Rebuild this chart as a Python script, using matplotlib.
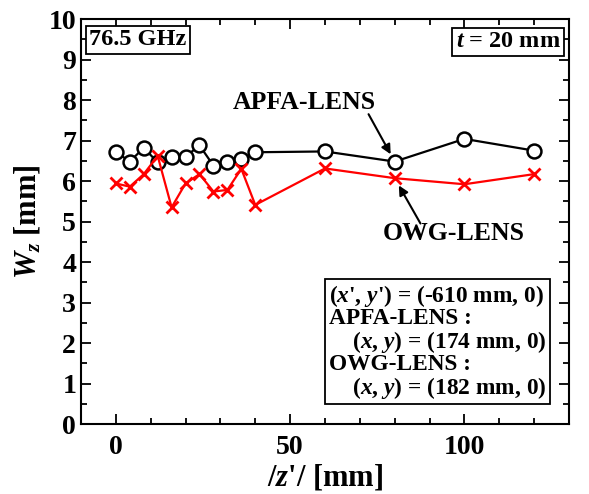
import numpy as np
import matplotlib
matplotlib.use('Agg')
import matplotlib.pyplot as plt
from matplotlib.ticker import MultipleLocator

plt.rcParams['font.family'] = ['Liberation Serif', 'DejaVu Serif']
plt.rcParams['font.weight'] = 'bold'
plt.rcParams['axes.labelweight'] = 'bold'
plt.rcParams['mathtext.fontset'] = 'custom'
plt.rcParams['mathtext.rm'] = 'Liberation Serif:bold'
plt.rcParams['mathtext.it'] = 'Liberation Serif:italic:bold'
plt.rcParams['mathtext.bf'] = 'Liberation Serif:bold'

# |z'| positions [mm]
z = [0, 4, 8, 12, 16, 20, 24, 28, 32, 36, 40, 60, 80, 100, 120]
# beam width W_z [mm]
w_apfa = [6.72, 6.48, 6.82, 6.46, 6.60, 6.60, 6.88, 6.38, 6.48, 6.54, 6.71, 6.73, 6.48, 7.04, 6.75]
w_owg = [5.94, 5.86, 6.17, 6.62, 5.35, 5.94, 6.17, 5.74, 5.78, 6.30, 5.41, 6.31, 6.07, 5.92, 6.17]

fig = plt.figure(figsize=(5.89, 4.94), dpi=100)
ax = fig.add_axes([0.1375, 0.1417, 0.8285, 0.8198])

ax.plot(z, w_apfa, '-o', color='black', lw=1.6, ms=10, mfc='white', mec='black', mew=1.8, zorder=2)
ax.plot(z, w_owg, '-x', color='red', lw=1.6, ms=9, mew=2.0, zorder=3)

ax.set_xlim(-10, 130)
ax.set_ylim(0, 10)
ax.xaxis.set_major_locator(MultipleLocator(50))
ax.xaxis.set_minor_locator(MultipleLocator(10))
ax.yaxis.set_major_locator(MultipleLocator(1))
ax.yaxis.set_minor_locator(MultipleLocator(0.5))
ax.tick_params(which='both', direction='in', top=True, right=True, width=1.3, labelsize=20)
ax.tick_params(which='major', length=7)
ax.tick_params(which='minor', length=4)
ax.tick_params(axis='x', pad=8)
for s in ax.spines.values():
    s.set_linewidth(1.5)

ax.set_xlabel(r"/$z$'/ [mm]", fontsize=22, labelpad=2)
ax.set_ylabel(r"$W_z$ [mm]", fontsize=22, labelpad=4)

box = dict(boxstyle='square,pad=0.14', fc='white', ec='black', lw=1.3)
ax.text(0.017, 0.975, '76.5 GHz', transform=ax.transAxes, fontsize=17.5,
        ha='left', va='top', bbox=box)
ax.text(0.983, 0.97, r'$t$ = 20 mm', transform=ax.transAxes, fontsize=17.5,
        ha='right', va='top', bbox=box)

info = ("($x$', $y$') = (-610 mm, 0)\n"
        "APFA-LENS :\n"
        "    ($x$, $y$) = (174 mm, 0)\n"
        "OWG-LENS :\n"
        "    ($x$, $y$) = (182 mm, 0)")
ax.text(0.953, 0.058, info, transform=ax.transAxes, fontsize=16.8, linespacing=0.97,
        ha='right', va='bottom', multialignment='left',
        bbox=dict(boxstyle='square,pad=0.15', fc='white', ec='black', lw=1.3))

arrow = dict(arrowstyle='-|>', color='black', lw=1.5, mutation_scale=14,
             shrinkA=0, shrinkB=6)
ax.text(54, 7.95, 'APFA-LENS', fontsize=18.5, ha='center', va='center')
ax.annotate('', xy=(z[12], w_apfa[12]), xytext=(72.5, 7.65), arrowprops=arrow)
ax.text(97, 4.7, 'OWG-LENS', fontsize=18.5, ha='center', va='center')
ax.annotate('', xy=(z[12], w_owg[12]), xytext=(87.4, 4.95), arrowprops=arrow)

fig.savefig('out.png', dpi=100)
